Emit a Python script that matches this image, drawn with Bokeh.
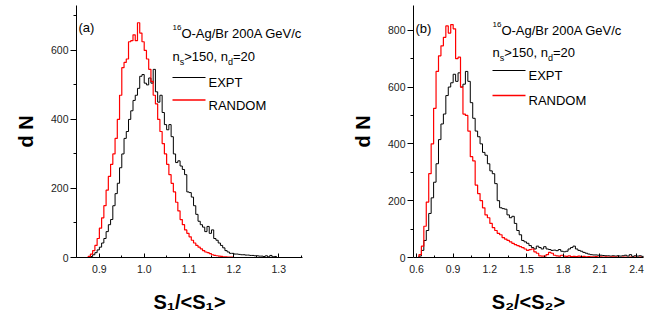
import numpy as np
from bokeh.plotting import figure
from bokeh.layouts import row
from bokeh.models import Label, BoxAnnotation, FixedTicker, PrintfTickFormatter, Range1d
from bokeh.embed import file_html
from bokeh.resources import INLINE

# ---------------- data ----------------
a_bin_start = 0.870
a_bin_width = 0.005
a_expt = [0, 0, 3, 8, 14, 22, 30, 42, 55, 75,
          95, 110, 150, 185, 215, 260, 300, 345, 365, 400,
          425, 455, 470, 490, 525, 530, 505, 500, 520, 505,
          545, 480, 450, 470, 420, 385, 370, 385, 350, 300,
          275, 280, 265, 255, 240, 190, 188, 175, 150, 125,
          105, 95, 88, 75, 90, 70, 80, 55, 50, 42,
          35, 28, 20, 16, 12, 12, 10, 10, 9, 8,
          8, 7, 7, 6, 6, 5, 5, 4, 4, 3,
          5, 2, 6, 2, 3, 0]
a_random = [0, 3, 10, 20, 35, 55, 85, 115, 150, 195,
            235, 270, 300, 345, 400, 470, 550, 565, 575, 625,
            628, 645, 628, 680, 650, 625, 600, 575, 545, 510,
            470, 445, 400, 365, 330, 300, 270, 240, 215, 190,
            160, 135, 110, 95, 80, 70, 60, 50, 42, 35,
            30, 25, 20, 16, 14, 11, 8, 6, 5, 4,
            3, 2, 2, 1, 1, 1, 0, 0, 0, 0,
            0, 0, 0, 0, 0, 0, 0, 0, 0, 0,
            0, 0, 0, 0, 0, 0]

b_bin_start = 0.60
b_bin_width = 0.02
b_expt = [0, 5, 25, 60, 95, 155, 210, 265, 330, 415,
          470, 505, 570, 600, 615, 645, 620, 650, 600, 610,
          655, 620, 545, 490, 445, 425, 400, 370, 360, 330,
          305, 295, 260, 200, 175, 172, 170, 150, 140, 145,
          120, 95, 80, 60, 55, 50, 42, 35, 30, 40,
          35, 30, 38, 30, 28, 25, 26, 24, 28, 22,
          20, 22, 30, 35, 40, 30, 25, 22, 18, 15,
          12, 10, 9, 9, 8, 8, 7, 6, 6, 5,
          6, 5, 6, 5, 6, 8, 5, 10, 4, 6,
          5, 6, 4]
b_random = [0, 10, 40, 110, 195, 295, 400, 525, 655, 710,
            745, 775, 815, 790, 820, 805, 700, 705, 600, 505,
            500, 445, 355, 340, 255, 225, 200, 175, 150, 140,
            120, 105, 95, 85, 80, 70, 65, 60, 55, 50,
            45, 42, 38, 35, 30, 25, 28, 30, 20, 15,
            6, 5, 5, 10, 18, 15, 8, 6, 5, 8,
            5, 4, 6, 3, 4, 3, 5, 3, 4, 2,
            3, 2, 2, 3, 1, 2, 1, 2, 1, 1,
            2, 1, 1, 0, 1, 1, 0, 1, 0, 1,
            0, 1, 0]

a_xticks = [0.9, 1.0, 1.1, 1.2, 1.3]
a_xminor = [0.85, 0.95, 1.05, 1.15, 1.25, 1.35]
a_yticks = [0, 200, 400, 600]
a_yminor = [100, 300, 500, 700]
b_xticks = [0.6, 0.9, 1.2, 1.5, 1.8, 2.1, 2.4]
b_xminor = [0.75, 1.05, 1.35, 1.65, 1.95, 2.25]
b_yticks = [0, 200, 400, 600, 800]
b_yminor = [100, 300, 500, 700]

legend_labels = ["EXPT", "RANDOM"]
series_colors = ["black", "#ff0000"]
a_xlabel = "S\u2081/<S\u2081>"
b_xlabel = "S\u2082/<S\u2082>"
ylabel = "d N"

# ---------------- style helpers ----------------
FONT = "Liberation Sans"
AW = {' ': 278, ',': 278, '-': 333, '/': 278, '<': 584, '>': 584, '=': 584, '(': 333, ')': 333,
      'A': 667, 'B': 667, 'D': 722, 'E': 667, 'G': 778, 'M': 833, 'N': 722, 'O': 778, 'P': 667,
      'R': 722, 'S': 667, 'T': 611, 'V': 667, 'X': 667, 'a': 556, 'b': 556, 'c': 500, 'd': 556,
      'e': 556, 'g': 556, 'n': 556, 'r': 333, 's': 500}


def tw(s, size):
    return sum(AW.get(c, 556) for c in s) / 1000.0 * size


FRAME_BOTTOM = 257


def add_text(p, ox, x, y, text, size, bold=False):
    p.add_layout(Label(x=x - ox, y=FRAME_BOTTOM - y, x_units="screen", y_units="screen",
                       text=text, text_font=FONT, text_font_size=f"{size}px",
                       text_font_style="bold" if bold else "normal", text_color="black",
                       text_align="left", text_baseline="alphabetic"))


def add_rich(p, ox, x, y, pieces):
    for t, s, dy in pieces:
        add_text(p, ox, x, y + dy, t, s)
        x += tw(t, s)


def add_key(p, ox, x0, x1, y, color, thick, label):
    # legend entry: short line sample + label
    p.add_layout(BoxAnnotation(left=x0 - ox, right=x1 - ox,
                               bottom=FRAME_BOTTOM - y - thick / 2, top=FRAME_BOTTOM - y + thick / 2,
                               left_units="screen", right_units="screen",
                               bottom_units="screen", top_units="screen",
                               fill_color=color, fill_alpha=1.0, line_color=None))
    add_text(p, ox, x1 + 3, y + 5, label, 13)


def make_panel(start, width, expt, rand, xr, yr, xt, xm, yt, ym, bl, fw, br, xlabel):
    p = figure(frame_width=fw, frame_height=252, x_range=Range1d(*xr), y_range=Range1d(*yr),
               output_backend="svg", toolbar_location=None,
               min_border_left=bl, min_border_right=br, min_border_top=5, min_border_bottom=65)
    p.outline_line_color = None
    p.grid.visible = False
    p.background_fill_color = "white"
    p.border_fill_color = "white"

    xa = p.xaxis[0]
    xa.ticker = FixedTicker(ticks=xt, minor_ticks=xm)
    xa.formatter = PrintfTickFormatter(format="%.1f")
    xa.major_tick_in = 4
    xa.major_tick_out = 0
    xa.minor_tick_in = 2
    xa.minor_tick_out = 0
    xa.major_label_standoff = 7
    xa.axis_label = xlabel
    xa.axis_label_text_font_size = "20px"
    xa.axis_label_standoff = 15

    ya = p.yaxis[0]
    ya.ticker = FixedTicker(ticks=yt, minor_ticks=ym)
    ya.major_tick_in = 0
    ya.major_tick_out = 6
    ya.minor_tick_in = 0
    ya.minor_tick_out = 3
    ya.major_label_standoff = 2
    ya.axis_label = ylabel
    ya.axis_label_text_font_size = "20px"
    ya.axis_label_standoff = 11

    for ax in (xa, ya):
        ax.axis_line_color = "black"
        ax.major_tick_line_color = "black"
        ax.minor_tick_line_color = "black"
        ax.major_label_text_font = FONT
        ax.major_label_text_font_size = "10.5px"
        ax.major_label_text_color = "#222222"
        ax.axis_label_text_font = FONT
        ax.axis_label_text_font_style = "bold"
        ax.axis_label_text_color = "black"

    for counts, color, lw in ((expt, series_colors[0], 1.0), (rand, series_colors[1], 1.2)):
        edges = start + width * np.arange(len(counts) + 1)
        yv = np.append(np.asarray(counts, dtype=float), 0.0)
        p.step(edges, yv, mode="after", line_color=color, line_width=lw)
    return p


# ---------------- panel (a) ----------------
pa = make_panel(a_bin_start, a_bin_width, a_expt, a_random, (0.849, 1.353), (0, 730),
                a_xticks, a_xminor, a_yticks, a_yminor, 76, 226, 25, a_xlabel)
OXA = 76
add_text(pa, OXA, 78, 27, "(a)", 13)
add_rich(pa, OXA, 172, 33, [("16", 8, -6), ("O-Ag/Br 200A GeV/c", 13, 0)])
add_rich(pa, OXA, 172, 56, [("n", 13, 0), ("s", 9, 5), (">150, n", 13, 0), ("d", 9, 5), ("=20", 13, 0)])
add_key(pa, OXA, 172, 205, 77, series_colors[0], 1.0, legend_labels[0])
add_key(pa, OXA, 172, 205, 99.5, series_colors[1], 1.3, legend_labels[1])

# ---------------- panel (b) ----------------
pb = make_panel(b_bin_start, b_bin_width, b_expt, b_random, (0.5755, 2.457), (0, 887),
                b_xticks, b_xminor, b_yticks, b_yminor, 86, 230, 11, b_xlabel)
OXB = 413
add_text(pb, OXB, 415, 28, "(b)", 13)
add_rich(pb, OXB, 492, 30, [("16", 8, -6), ("O-Ag/Br 200A GeV/c", 13, 0)])
add_rich(pb, OXB, 492, 52, [("n", 13, 0), ("s", 9, 5), (">150, n", 13, 0), ("d", 9, 5), ("=20", 13, 0)])
add_key(pb, OXB, 492, 525, 70, series_colors[0], 1.0, legend_labels[0])
add_key(pb, OXB, 492, 525, 95, series_colors[1], 1.3, legend_labels[1])

layout = row(pa, pb)
open("out.html", "w").write(file_html(layout, INLINE))
